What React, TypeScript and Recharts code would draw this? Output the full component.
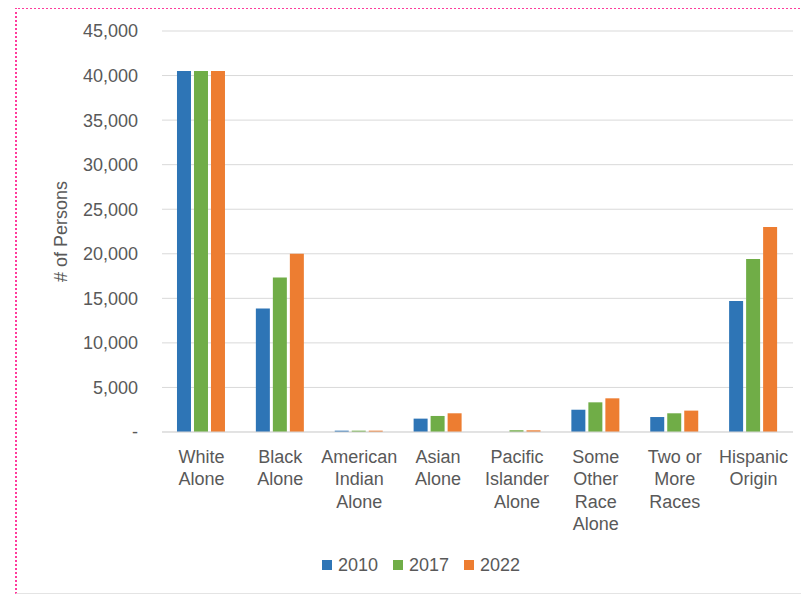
import { BarChart, Bar, XAxis, YAxis, CartesianGrid, Legend } from 'recharts';

const categories = [
  'White\nAlone',
  'Black\nAlone',
  'American\nIndian\nAlone',
  'Asian\nAlone',
  'Pacific\nIslander\nAlone',
  'Some\nOther\nRace\nAlone',
  'Two or\nMore\nRaces',
  'Hispanic\nOrigin',
];

const years = ['2010', '2017', '2022'];
const values2010 = [40500, 13850, 150, 1500, 0, 2500, 1680, 14700];
const values2017 = [40500, 17350, 150, 1800, 190, 3330, 2100, 19400];
const values2022 = [40500, 20000, 150, 2100, 190, 3780, 2400, 23000];
const yTicks = [0, 5000, 10000, 15000, 20000, 25000, 30000, 35000, 40000, 45000];

const colors = ['#2e75b6', '#70ad47', '#ed7d31'];
const FONT = '"Liberation Sans", Arial, sans-serif';
const TEXT = '#595959';

const data = categories.map((name, i) => ({
  name,
  '2010': values2010[i],
  '2017': values2017[i],
  '2022': values2022[i],
}));

function CategoryTick({ x, y, payload }: any) {
  const lines = String(payload.value).split('\n');
  return (
    <g transform={`translate(${x},${y})`}>
      <text textAnchor="middle" fill={TEXT} fontSize={18} fontFamily={FONT}>
        {lines.map((line, i) => (
          <tspan key={i} x={0} dy={i === 0 ? '0.72em' : 22.5}>
            {line}
          </tspan>
        ))}
      </text>
    </g>
  );
}

function YearLegend() {
  return (
    <div style={{ display: 'flex', justifyContent: 'center', height: 24, alignItems: 'center', paddingRight: 18 }}>
      {years.map((y, i) => (
        <span key={y} style={{ display: 'flex', alignItems: 'center', marginRight: 15, fontFamily: FONT, fontSize: 18, color: TEXT }}>
          <span style={{ width: 10, height: 10, background: colors[i], marginRight: 6, display: 'inline-block' }} />
          {y}
        </span>
      ))}
    </div>
  );
}

export default function App() {
  return (
    <div style={{ position: 'relative', width: 801, height: 586 }}>
      <div
        style={{
          position: 'absolute',
          left: 7,
          top: -1,
          width: 794,
          height: 584,
          borderLeft: '2px dotted #ff3c9d',
          borderTop: '2px dotted #ff3c9d',
          borderBottom: '1px solid #e4e4e4',
        }}
      />
      <div style={{ position: 'absolute', left: 0, top: 0 }}>
        <BarChart
          width={801}
          height={586}
          data={data}
          margin={{ top: 23, right: 16, bottom: 17, left: 74 }}
          barCategoryGap="19%"
          barGap={3}
        >
          <CartesianGrid vertical={false} stroke="#d9d9d9" />
          <XAxis
            dataKey="name"
            interval={0}
            height={121}
            tickLine={false}
            tickSize={0}
            tickMargin={18}
            axisLine={{ stroke: '#d9d9d9' }}
            tick={<CategoryTick />}
          />
          <YAxis
            width={80}
            domain={[0, 45000]}
            ticks={yTicks}
            axisLine={false}
            tickLine={false}
            tickSize={0}
            tickMargin={24}
            tickFormatter={(v: number) => (v === 0 ? '-' : v.toLocaleString('en-US'))}
            tick={{ fill: TEXT, fontSize: 18, fontFamily: FONT }}
            label={{
              value: '# of Persons',
              angle: -90,
              position: 'insideLeft',
              offset: -21,
              style: { fill: TEXT, fontSize: 18, fontFamily: FONT, textAnchor: 'middle' },
            }}
          />
          <Legend verticalAlign="bottom" content={<YearLegend />} />
          {years.map((y, i) => (
            <Bar key={y} dataKey={y} fill={colors[i]} isAnimationActive={false} />
          ))}
        </BarChart>
      </div>
    </div>
  );
}
